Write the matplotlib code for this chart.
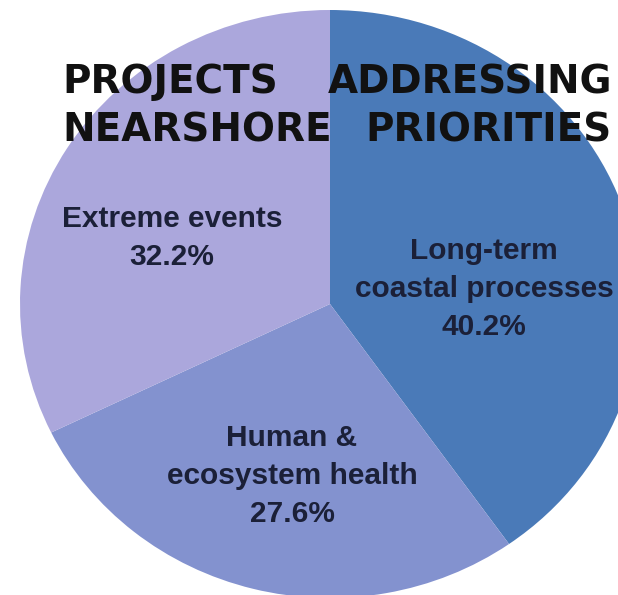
import matplotlib.pyplot as plt

categories = ['Long-term\ncoastal processes', 'Human &\necosystem health', 'Extreme events']
shares = [40.2, 27.6, 32.2]
colors = ['#4a7ab8', '#8392cf', '#aba7dc']

W, H = 618, 595
fig = plt.figure(figsize=(W / 100, H / 100), dpi=100)

# pie box in pixels (slightly wider than tall, like the source image)
cx, cy, rx, ry = 330, 304, 310, 294
ax = fig.add_axes([(cx - rx) / W, 1 - (cy + ry) / H, 2 * rx / W, 2 * ry / H])
ax.pie(shares, colors=colors, startangle=90, counterclock=False,
       wedgeprops=dict(linewidth=0))
ax.set_xlim(-1, 1)
ax.set_ylim(-1, 1)
ax.set_aspect('auto')
ax.axis('off')

txt = '#1b2038'
lab_pos = [(484, 289), (292, 476), (172, 238)]
for name, v, (x, y) in zip(categories, shares, lab_pos):
    fig.text(x / W, 1 - y / H, f'{name}\n{v}%', ha='center', va='center',
             fontsize=21.5, fontweight='bold', color=txt, family='Liberation Sans',
             linespacing=1.45)

# title: one word at each edge of the block, as in the source
tkw = dict(va='center', fontsize=28, fontweight='bold', family='DejaVu Sans',
           color='#111111')
fig.text(62 / W, 1 - 82 / H, 'PROJECTS', ha='left', **tkw)
fig.text(612 / W, 1 - 82 / H, 'ADDRESSING', ha='right', **tkw)
fig.text(62 / W, 1 - 130 / H, 'NEARSHORE', ha='left', **tkw)
fig.text(612 / W, 1 - 130 / H, 'PRIORITIES', ha='right', **tkw)

fig.savefig('out.png', dpi=100, facecolor='white')
